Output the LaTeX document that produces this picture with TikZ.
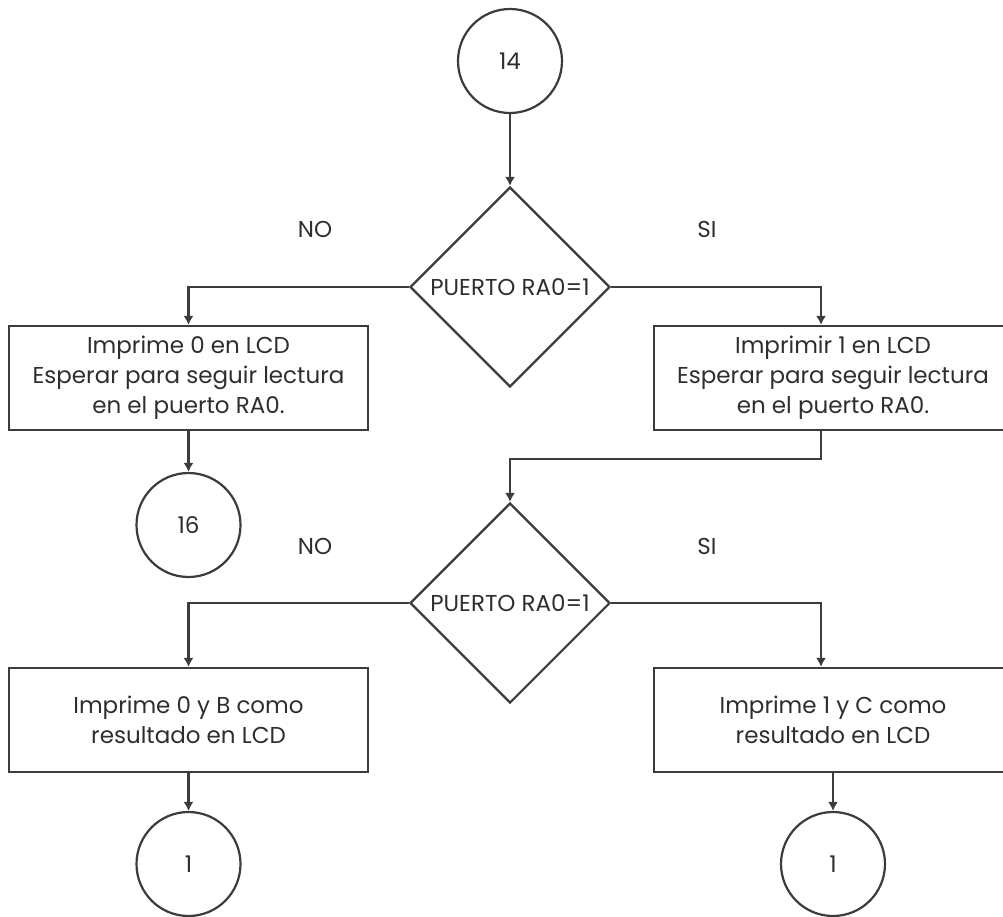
\documentclass[tikz,border=0pt]{standalone}
\usepackage{fontspec}
\setmainfont{Poppins}
\usetikzlibrary{shapes.geometric,arrows.meta}
\definecolor{ink}{HTML}{3C3C3C}
\definecolor{txt}{HTML}{2E2E2E}
\newcommand{\chartfont}{\fontsize{23}{30}\selectfont}
\tikzset{
  base/.style={draw=ink, line width=2.2pt, text=txt, font=\chartfont},
  conn/.style={circle, base, minimum size=104pt, inner sep=0pt},
  proc/.style={rectangle, base, minimum height=104pt, align=center, inner sep=0pt},
  dec/.style={diamond, base, minimum width=200pt, minimum height=200pt, inner sep=0pt},
  dectext/.style={fill=white, text=txt, inner sep=2pt, font=\chartfont},
  lbl/.style={text=txt, font=\chartfont},
  flow/.style={draw=ink, line width=2.2pt, -{Latex[length=9pt,width=10pt]}},
}
\begin{document}
\begin{tikzpicture}[x=1pt,y=-1pt]
\useasboundingbox (0,0) rectangle (1003,917);

% connectors and decisions
\node[conn] (c14) at (510,61) {14};
\node[dec] (d1) at (510,287) {};
\node[dectext] (d1t) at (510,287) {PUERTO RA0=1};

\node[proc, minimum width=359pt] (b1) at (188.5,378) {Imprime 0 en LCD\\Esperar para seguir lectura\\en el puerto RA0.};
\node[proc, minimum width=358pt] (b2) at (833,378) {Imprimir 1 en LCD\\Esperar para seguir lectura\\en el puerto RA0.};

\node[conn] (c16) at (188.5,525) {16};

\node[dec] (d2) at (510,603) {};
\node[dectext] (d2t) at (510,603) {PUERTO RA0=1};

\node[proc, minimum width=359pt] (b3) at (188.5,720) {Imprime 0 y B como\\resultado en LCD};
\node[proc, minimum width=358pt] (b4) at (833,720) {Imprime 1 y C como\\resultado en LCD};

\node[conn] (e1) at (188.5,864) {1};
\node[conn] (e2) at (833,864) {1};

% branch labels
\node[lbl] (no1) at (315,229) {NO};
\node[lbl] (si1) at (707,229) {SI};
\node[lbl] (no2) at (315,546) {NO};
\node[lbl] (si2) at (707,546) {SI};

% flow lines
\draw[flow] (c14) -- (d1.north);
\draw[flow] (d1.west) -| (b1.north);
\draw[flow] (d1.east) -| ([xshift=-12pt]b2.north);
\draw[flow] (b1) -- (c16);
\draw[flow] ([xshift=-12pt]b2.south) -- ++(0,28) -| (d2.north);
\draw[flow] (d2.west) -| (b3.north);
\draw[flow] (d2.east) -| ([xshift=-12pt]b4.north);
\draw[flow] (b3) -- (e1);
\draw[flow] (b4) -- (e2);
\end{tikzpicture}
\end{document}
